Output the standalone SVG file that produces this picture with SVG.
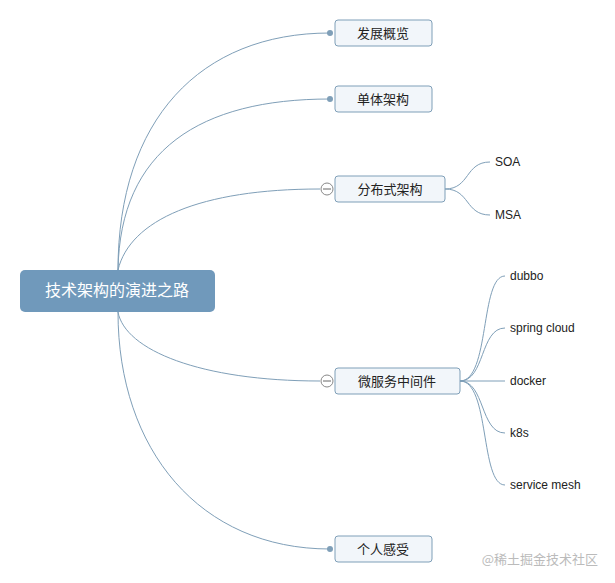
<svg xmlns="http://www.w3.org/2000/svg" width="615" height="583" viewBox="0 0 615 583">
<style>
.n{fill:#f2f6fa;stroke:#7f9fb8;stroke-width:1}
.t{font-family:"Noto Sans CJK SC","Liberation Sans",sans-serif;font-size:13px;fill:#222;text-anchor:middle}
.l{font-family:"Liberation Sans",sans-serif;font-size:12px;fill:#222}
.c{fill:none;stroke:#7f9fb8;stroke-width:1}
</style>
<rect width="615" height="583" fill="#fff"/>
<g id="connectors">
<path class="c" d="M118 270 C118 120 200 33 330 33"/>
<path class="c" d="M118 270 C120 150 200 99 330 99"/>
<path class="c" d="M118 270 C130 220 200 189 320 189"/>
<path class="c" d="M118 312 C125 350 200 381 320 381"/>
<path class="c" d="M118 312 C118 450 200 549 330 549"/>
<path class="c" d="M445 189 C470 189 465 162 490 162"/>
<path class="c" d="M445 189 C470 189 465 215 490 215"/>
<path class="c" d="M460 381 C490 381 480 276 505 276"/>
<path class="c" d="M460 381 C485 381 480 328 505 328"/>
<path class="c" d="M460 381 L505 381"/>
<path class="c" d="M460 381 C485 381 480 433 505 433"/>
<path class="c" d="M460 381 C490 381 480 485 505 485"/>
<circle cx="330" cy="33" r="3" fill="#7f9fb8"/>
<circle cx="330" cy="99" r="3" fill="#7f9fb8"/>
<circle cx="330" cy="549" r="3" fill="#7f9fb8"/>
<g fill="#fff" stroke="#888"><circle cx="327" cy="189" r="6"/><circle cx="327" cy="381" r="6"/></g>
<path d="M323 189h8M323 381h8" stroke="#666"/>
</g>
<g id="root"><rect x="20" y="270" width="195" height="42" rx="5" fill="#7099bb"/><text x="117" y="296" class="t" style="fill:#fff;font-size:16px">技术架构的演进之路</text></g>
<g id="n1"><rect class="n" x="335" y="20" width="97" height="26" rx="3"/><text class="t" x="383" y="38">发展概览</text></g>
<g id="n2"><rect class="n" x="335" y="86" width="97" height="26" rx="3"/><text class="t" x="383" y="104">单体架构</text></g>
<g id="n3"><rect class="n" x="335" y="176" width="110" height="26" rx="3"/><text class="t" x="390" y="194">分布式架构</text></g>
<g id="n4"><rect class="n" x="335" y="368" width="125" height="26" rx="3"/><text class="t" x="397" y="386">微服务中间件</text></g>
<g id="n5"><rect class="n" x="335" y="536" width="97" height="26" rx="3"/><text class="t" x="383" y="554">个人感受</text></g>
<g id="leaves">
<text class="l" x="495" y="166">SOA</text>
<text class="l" x="495" y="219">MSA</text>
<text class="l" x="510" y="280">dubbo</text>
<text class="l" x="510" y="332">spring cloud</text>
<text class="l" x="510" y="385">docker</text>
<text class="l" x="510" y="437">k8s</text>
<text class="l" x="510" y="489">service mesh</text>
</g>
<text x="598" y="564" style="font-family:'Noto Sans CJK SC',sans-serif;font-size:13px;fill:#bbb;text-anchor:end">@稀土掘金技术社区</text>
</svg>
